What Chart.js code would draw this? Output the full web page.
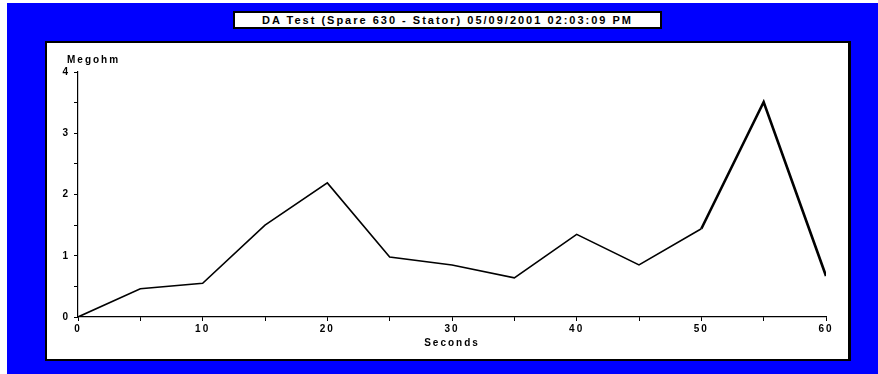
<!DOCTYPE html>
<html>
<head>
<meta charset="utf-8">
<script src="https://cdn.jsdelivr.net/npm/chart.js@4/dist/chart.umd.min.js"></script>
<style>
  html, body { margin: 0; padding: 0; width: 878px; height: 374px; background: #fff; overflow: hidden; }
  #bg { position: absolute; left: 7px; top: 3px; width: 871px; height: 371px; background: #0000ff; }
  #titlebox { position: absolute; left: 233px; top: 11px; width: 425px; height: 14px; background: #fff;
    border: 2px solid #000; font: bold 11px "Liberation Sans", Arial, sans-serif; color: #000; letter-spacing: 2px;
    text-align: center; line-height: 14px; white-space: nowrap; }
  #panel { position: absolute; left: 45px; top: 41px; width: 801px; height: 316px; background: #fff;
    border-left: 2px solid #000; border-top: 2px solid #000; border-right: 3px solid #000; border-bottom: 2px solid #000; }
  #wrap { position: absolute; left: 0; top: 0; width: 878px; height: 374px; }
</style>
</head>
<body>
<div id="bg"></div>
<div id="titlebox">DA Test (Spare 630 - Stator) 05/09/2001 02:03:09 PM</div>
<div id="panel"></div>
<div id="wrap"><canvas id="c" width="878" height="374"></canvas></div>
<script>
const seconds = [0, 5, 10, 15, 20, 25, 30, 35, 40, 45, 50, 55, 60];
const megohm  = [0, 0.46, 0.55, 1.50, 2.19, 0.98, 0.85, 0.64, 1.35, 0.85, 1.44, 3.51, 0.67];
const yAxisLabel = "Megohm";
const xAxisLabel = "Seconds";

const FONT = '"Liberation Sans", Arial, sans-serif';
const SPACING = '2px';

const spacing = {
  id: 'spacing',
  beforeUpdate(chart) { chart.ctx.letterSpacing = SPACING; },
  beforeLayout(chart) { chart.ctx.letterSpacing = SPACING; },
  beforeDraw(chart) { chart.ctx.letterSpacing = SPACING; }
};

const megohmLabel = {
  id: 'megohmLabel',
  afterDraw(chart) {
    const ctx = chart.ctx;
    const y = chart.scales.y;
    ctx.save();
    ctx.letterSpacing = SPACING;
    ctx.font = 'bold 10px ' + FONT;
    ctx.fillStyle = '#000';
    ctx.textAlign = 'left';
    ctx.textBaseline = 'middle';
    ctx.fillText(yAxisLabel, 67, y.getPixelForValue(4) - 12);
    ctx.restore();
  }
};

new Chart(document.getElementById('c'), {
  type: 'line',
  data: {
    labels: seconds,
    datasets: [{
      data: seconds.map((s, i) => ({ x: s, y: megohm[i] })),
      borderColor: '#000',
      borderWidth: 1.6,
      pointRadius: 0,
      tension: 0,
      segment: { borderWidth: ctx => ctx.p0DataIndex >= 10 ? 2.6 : 1.6 }
    }]
  },
  options: {
    responsive: false,
    animation: false,
    layout: { padding: { left: 0, top: 72, right: 52, bottom: 25 } },
    plugins: { legend: { display: false }, tooltip: { enabled: false }, title: { display: false } },
    scales: {
      x: {
        type: 'linear', min: 0, max: 60,
        afterFit: s => { s.height = 32; },
        border: { display: true, color: '#000', width: 1.2 },
        grid: { display: true, drawOnChartArea: false, drawTicks: true, tickLength: 4, color: '#000' },
        ticks: { stepSize: 5, color: '#000', font: { family: FONT, size: 10, weight: 'bold' }, padding: 2,
          maxRotation: 0, autoSkip: false,
          callback: v => (v % 10 === 0 ? String(v) : '') },
        title: { display: true, text: xAxisLabel, color: '#000', font: { family: FONT, size: 10, weight: 'bold' }, padding: { top: 0, bottom: 0 } }
      },
      y: {
        min: 0, max: 4,
        afterFit: s => { s.width = 78; },
        border: { display: true, color: '#000', width: 1.2 },
        grid: { display: true, drawOnChartArea: false, drawTicks: true, tickLength: 4, color: '#000' },
        ticks: { stepSize: 0.5, color: '#000', font: { family: FONT, size: 10, weight: 'bold' }, padding: 4,
          autoSkip: false,
          callback: v => (Number.isInteger(v) ? String(v) : '') }
      }
    }
  },
  plugins: [spacing, megohmLabel]
});
</script>
</body>
</html>
